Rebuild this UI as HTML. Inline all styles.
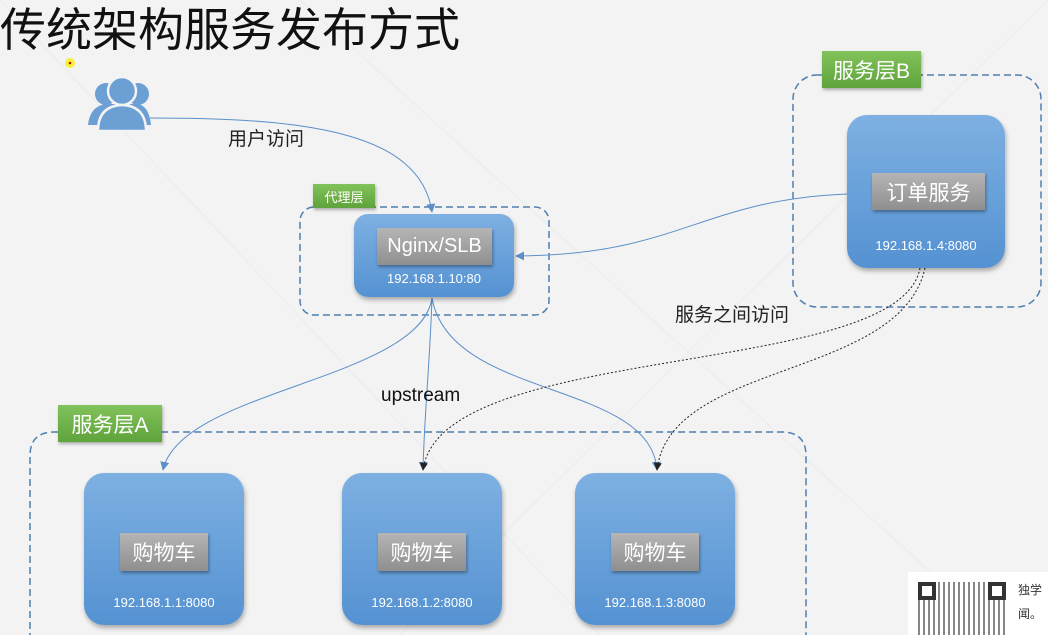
<!DOCTYPE html>
<html style="overflow:hidden;width:1048px;height:635px"><head><meta charset="utf-8"><style>
*{margin:0;padding:0;box-sizing:border-box}
body{width:1048px;height:635px;overflow:hidden;background:#f3f3f3;position:relative;font-family:"Liberation Sans","Noto Sans CJK SC",sans-serif}
.a{position:absolute}
.green{position:absolute;background:linear-gradient(#82c25a,#5fa33c);color:#fff;display:flex;align-items:center;justify-content:center;box-shadow:1px 2px 3px rgba(0,0,0,.3)}
.node{position:absolute;background:linear-gradient(#7eb0e2,#5592d2);border-radius:20px;box-shadow:1px 3px 5px rgba(0,0,0,.3)}
.lab{position:absolute;background:linear-gradient(#b5b5b5,#8f8f8f);color:#fff;display:flex;align-items:center;justify-content:center;box-shadow:1px 2px 3px rgba(0,0,0,.35)}
.ip{position:absolute;left:0;right:0;text-align:center;color:#fff;font-size:13px}
</style></head><body>
<svg class="a" style="left:0;top:0" width="1048" height="635">
<g stroke="#ebebeb" stroke-width="1" fill="none">
<line x1="0" y1="0" x2="600" y2="635"/><line x1="1048" y1="0" x2="400" y2="635"/><line x1="300" y1="0" x2="1000" y2="635"/>
</g>
<g fill="none" stroke="#4f7fb0" stroke-width="1.5" stroke-dasharray="7,4">
<rect x="300" y="207" width="249" height="108" rx="14"/>
<rect x="793" y="75" width="248" height="232" rx="24"/>
<path d="M30,640 L30,456 Q30,432 54,432 L782,432 Q806,432 806,456 L806,640"/>
</g>
<defs>
<marker id="r" viewBox="0 0 10 10" refX="9" refY="5" markerWidth="9" markerHeight="9" orient="auto" markerUnits="userSpaceOnUse"><path d="M0,0L10,5L0,10z" fill="#5b8fc9"/></marker>
<marker id="k" viewBox="0 0 10 10" refX="9" refY="5" markerWidth="8" markerHeight="8" orient="auto" markerUnits="userSpaceOnUse"><path d="M0,0L10,5L0,10z" fill="#222"/></marker></defs>
<g fill="none" stroke="#5b8fc9" stroke-width="1">
<path d="M150,118 C300,118 420,130 432,212" marker-end="url(#r)"/>
<path d="M847,194 C700,200 680,255 516,256" marker-end="url(#r)"/>
<path d="M432,298 C420,380 180,390 163,470" marker-end="url(#r)"/>
<path d="M432,298 C430,360 424,420 423,470" marker-end="url(#r)"/>
<path d="M432,298 C450,400 650,380 657,470" marker-end="url(#r)"/>
</g>
<g fill="none" stroke="#222" stroke-width="1" stroke-dasharray="2,2">
<path d="M920,268 C900,380 440,340 423,470" marker-end="url(#k)"/>
<path d="M925,268 C900,380 670,360 657,470" marker-end="url(#k)"/>
</g>
<g fill="#6c9fd3">
<circle cx="106" cy="94" r="11"/><circle cx="138" cy="94" r="11"/>
<path d="M88,125 Q90,106 106,104 L115,104 L115,125z"/><path d="M151,125 Q149,106 138,104 L130,104 L130,125z"/>
<circle cx="122" cy="91" r="14" stroke="#f3f3f3" stroke-width="2.5"/>
<path d="M98,131 Q98,106 122,105 Q146,106 146,131z" stroke="#f3f3f3" stroke-width="2.5"/>
</g>
<circle cx="70" cy="63" r="5" fill="#f6f13a"/><circle cx="70" cy="63" r="1.3" fill="#c00"/>
</svg>
<div class="a" style="left:0;top:1px;font-size:46px;color:#111;line-height:58px">传统架构服务发布方式</div>
<div class="a" style="left:228px;top:124px;font-size:19px;color:#222">用户访问</div>
<div class="a" style="left:675px;top:300px;font-size:19px;color:#222">服务之间访问</div>
<div class="a" style="left:381px;top:385px;font-size:19px;color:#111">upstream</div>

<div class="green" style="left:313px;top:184px;width:62px;height:24px;font-size:13px">代理层</div>
<div class="node" style="left:354px;top:214px;width:160px;height:83px;border-radius:14px">
<div class="lab" style="left:23px;top:14px;width:115px;height:37px;font-size:20px">Nginx/SLB</div>
<div class="ip" style="top:57px">192.168.1.10:80</div></div>

<div class="green" style="left:822px;top:51px;width:99px;height:37px;font-size:21px">服务层B</div>
<div class="node" style="left:847px;top:115px;width:158px;height:153px">
<div class="lab" style="left:25px;top:58px;width:113px;height:37px;font-size:21px">订单服务</div>
<div class="ip" style="top:123px">192.168.1.4:8080</div></div>

<div class="green" style="left:58px;top:405px;width:104px;height:37px;font-size:21px">服务层A</div>
<div class="node" style="left:84px;top:473px;width:160px;height:152px">
<div class="lab" style="left:36px;top:60px;width:88px;height:38px;font-size:21px">购物车</div>
<div class="ip" style="top:122px">192.168.1.1:8080</div></div>
<div class="node" style="left:342px;top:473px;width:160px;height:152px">
<div class="lab" style="left:36px;top:60px;width:88px;height:38px;font-size:21px">购物车</div>
<div class="ip" style="top:122px">192.168.1.2:8080</div></div>
<div class="node" style="left:575px;top:473px;width:160px;height:152px">
<div class="lab" style="left:36px;top:60px;width:88px;height:38px;font-size:21px">购物车</div>
<div class="ip" style="top:122px">192.168.1.3:8080</div></div>

<div class="a" style="left:908px;top:572px;width:140px;height:63px;background:#fff"></div>
<div class="a" style="left:918px;top:582px;width:90px;height:53px;background:repeating-linear-gradient(90deg,#555 0 2px,#fff 2px 5px),#fff;opacity:.7"></div>
<div class="a" style="left:918px;top:582px;width:18px;height:18px;border:4px solid #333;background:#fff"></div>
<div class="a" style="left:988px;top:582px;width:18px;height:18px;border:4px solid #333;background:#fff"></div>
<div class="a" style="left:1018px;top:578px;font-size:12px;color:#333;line-height:24px">独学<br>闻。</div>
</body></html>
